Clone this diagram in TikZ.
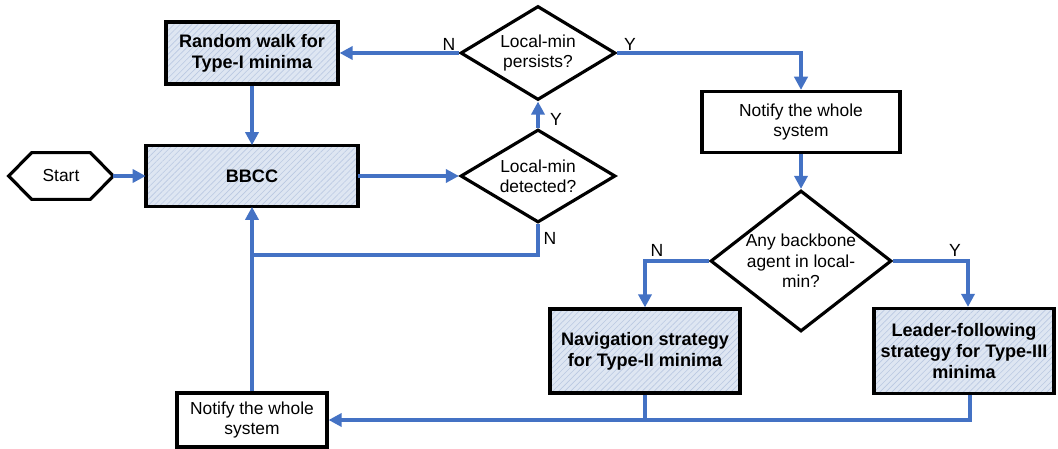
\documentclass[tikz,border=0pt]{standalone}
\usepackage{fontspec}
\setmainfont{Liberation Sans}
\usetikzlibrary{shapes.geometric,arrows.meta,patterns.meta,calc}

\definecolor{flowblue}{RGB}{68,114,196}
\definecolor{hatchbg}{RGB}{222,230,242}
\definecolor{hatchln}{RGB}{186,201,226}

\tikzset{
  rtext/.style={font=\fontsize{9.9pt}{11.6pt}\selectfont, align=center},
  btext/.style={font=\fontsize{10.3pt}{12pt}\selectfont\bfseries, align=center},
  plainbox/.style={rtext, draw=black, line width=1.8pt, fill=white, inner sep=2pt},
  hatchbox/.style={btext, draw=black, line width=1.8pt, inner sep=2pt,
    preaction={fill=hatchbg},
    pattern={Lines[angle=45,distance=2.4pt,line width=0.35pt]}, pattern color=hatchln},
  decision/.style={diamond, draw=black, line width=1.8pt, fill=white, inner sep=0pt},
  flow/.style={draw=flowblue, line width=2pt},
  arrow/.style={flow, -{Triangle[length=7.5pt,width=7.5pt]}},
  lbl/.style={font=\fontsize{10pt}{12pt}\selectfont, inner sep=0pt},
}

\begin{document}
\begin{tikzpicture}[x=0.02cm, y=-0.02cm]
\useasboundingbox (0,0) rectangle (1058,449);

% start terminal (hexagon outline drawn around the node)
\node[rtext, minimum width=2.08cm, minimum height=0.92cm, inner sep=0pt] (start) at (61,176) {Start};
\draw[black, line width=1.8pt, line join=miter]
  (start.west) -- ($(start.north west)+(23,0)$) -- ($(start.north east)+(-23,0)$)
  -- (start.east) -- ($(start.south east)+(-23,0)$) -- ($(start.south west)+(23,0)$) -- cycle;

% process boxes
\node[hatchbox, minimum width=4.24cm, minimum height=1.22cm] (bbcc) at (252,176) {BBCC};
\node[hatchbox, minimum width=3.44cm, minimum height=1.24cm] (rw) at (252,53) {Random walk for\\Type-I minima};
\node[plainbox, minimum width=3.96cm, minimum height=1.22cm] (n1) at (801,122) {Notify the whole\\system};
\node[hatchbox, minimum width=3.8cm, minimum height=1.68cm] (nav) at (645,351) {Navigation strategy\\for Type-II minima};
\node[hatchbox, minimum width=3.6cm, minimum height=1.7cm] (leader) at (964,351) {Leader-following\\strategy for Type-III\\minima};
\node[plainbox, minimum width=3.0cm, minimum height=1.08cm] (n2) at (252,420) {Notify the whole\\system};

% decisions
\node[decision, minimum width=3.1cm, minimum height=1.88cm,
  label={[rtext]center:Local-min\\persists?}] (d1) at (538,53) {};
\node[decision, minimum width=3.1cm, minimum height=1.86cm,
  label={[rtext]center:Local-min\\detected?}] (d2) at (538,176) {};
\node[decision, minimum width=3.62cm, minimum height=2.82cm,
  label={[rtext]center:Any backbone\\agent in local-\\min?}] (d3) at (801,261) {};

% junction points
\coordinate (j1) at (252,255);
\coordinate (lt) at ($(leader.north)+(4,0)$);
\coordinate (lb) at ($(leader.south)+(6,0)$);

% connectors
\draw[arrow] (start.east) -- (bbcc.west);
\draw[arrow] (rw.south) -- (bbcc.north);
\draw[arrow] (bbcc.east) -- (d2.west);
\draw[arrow] (d2.north) -- (d1.south);
\draw[arrow] (d1.west) -- (rw.east);
\draw[arrow] (d1.east) -| (n1.north);
\draw[flow] (d2.south) |- (j1);
\draw[arrow] (n2.north) -- (bbcc.south);
\draw[arrow] (n1.south) -- (d3.north);
\draw[arrow] (d3.west) -| (nav.north);
\draw[arrow] (d3.east) -| (lt);
\draw[flow] (nav.south) -- (nav.south |- n2.east);
\draw[arrow] (lb) |- (n2.east);

% branch labels
\node[lbl] (yd2) at (556,119) {Y};
\node[lbl] (nd1) at (449,44) {N};
\node[lbl] (yd1) at (630,44) {Y};
\node[lbl] (nd2) at (550,238) {N};
\node[lbl] (nd3) at (657,250) {N};
\node[lbl] (yd3) at (955,250) {Y};
\end{tikzpicture}
\end{document}
